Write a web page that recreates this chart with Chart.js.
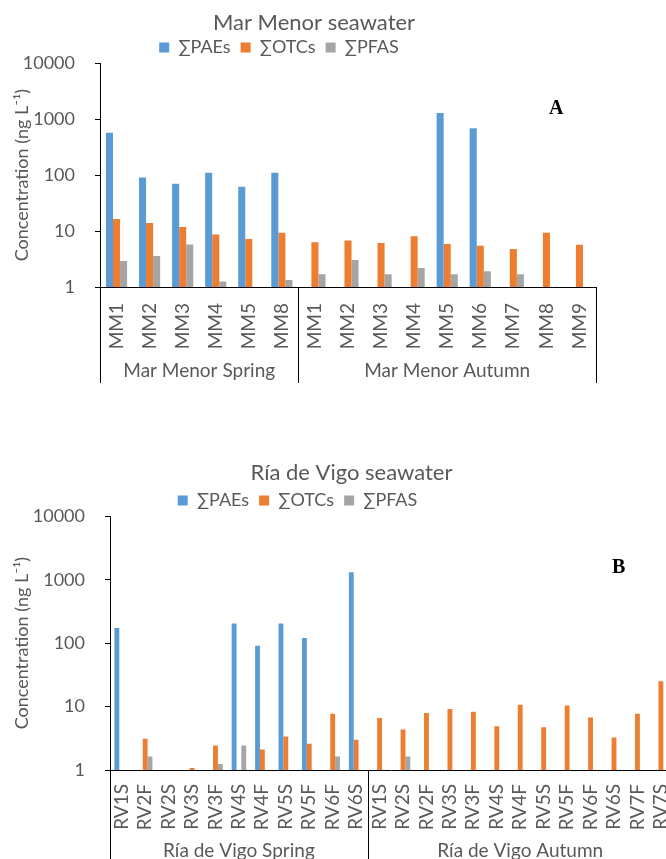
<!DOCTYPE html>
<html>
<head>
<meta charset="utf-8">
<script src="https://cdn.jsdelivr.net/npm/chart.js@4.4.1/dist/chart.umd.min.js"></script>
<style>
  body { margin: 0; width: 666px; height: 859px; overflow: hidden; background: #fff; position: relative; }
  canvas { position: absolute; left: 0; }
  #chartA { top: 0; }
  #chartB { top: 450px; }
  .tag { position: absolute; font-family: "Liberation Serif", serif; font-weight: bold; font-size: 20px; color: #000; line-height: 20px; }
</style>
</head>
<body>
<canvas id="chartA" width="620" height="387"></canvas>
<canvas id="chartB" width="690" height="420"></canvas>
<div class="tag" style="left:549px; top:97px">A</div>
<div class="tag" style="left:612px; top:556px">B</div>
<script>
const seriesNames = ["∑PAEs", "∑OTCs", "∑PFAS"];
const seriesColors = ["#5B9BD5", "#ED7D31", "#A5A5A5"];
const yTicks = [1, 10, 100, 1000, 10000];

// Mar Menor
const mmSites = ["MM1", "MM2", "MM3", "MM4", "MM5", "MM8",
  "MM1", "MM2", "MM3", "MM4", "MM5", "MM6", "MM7", "MM8", "MM9"];
const mmGroups = ["Mar Menor Spring", "Mar Menor Autumn"];
const mmGroupSizes = [6, 9];
const mmPAEs = [575, 91, 70, 111, 62, 111, null, null, null, null, 1290, 695, null, null, null];
const mmOTCs = [16.4, 13.9, 11.8, 8.7, 7.2, 9.3, 6.3, 6.8, 6.1, 8.1, 5.85, 5.45, 4.8, 9.3, 5.7];
const mmPFAS = [2.93, 3.6, 5.75, 1.26, null, 1.34, 1.69, 3.05, 1.69, 2.19, 1.69, 1.91, 1.69, null, null];

// Ria de Vigo
const rvSites = ["RV1S", "RV2F", "RV2S", "RV3S", "RV3F", "RV4S", "RV4F", "RV5S", "RV5F", "RV6F", "RV6S",
  "RV1S", "RV2S", "RV2F", "RV3S", "RV3F", "RV4S", "RV4F", "RV5S", "RV5F", "RV6F", "RV6S", "RV7F", "RV7S"];
const rvGroups = ["Ría de Vigo Spring", "Ría de Vigo Autumn"];
const rvGroupSizes = [11, 13];
const rvPAEs = [173, null, null, null, null, 205, 91, 205, 121, null, 1320,
  null, null, null, null, null, null, null, null, null, null, null, null, null];
const rvOTCs = [null, 3.1, null, 1.08, 2.43, null, 2.1, 3.38, 2.59, 7.74, 2.99,
  6.6, 4.36, 7.9, 9.2, 8.3, 4.9, 10.7, 4.74, 10.4, 6.76, 3.26, 7.74, 25];
const rvPFAS = [null, 1.63, null, null, 1.24, 2.43, null, null, null, 1.64, null,
  null, 1.64, null, null, null, null, null, null, null, null, null, null, null];

const textColor = "#595959";
const fontName = "Lato";

// group labels + separators under the category axis
const groupPlugin = {
  id: "groups",
  afterDraw(chart, args, opts) {
    const x = chart.scales.x;
    const ctx = chart.ctx;
    const step = x.width / x.ticks.length;
    ctx.save();
    ctx.strokeStyle = "#000";
    ctx.lineWidth = 1;
    ctx.fillStyle = textColor;
    ctx.font = opts.fontSize + "px " + fontName;
    ctx.textAlign = "center";
    ctx.textBaseline = "middle";
    let idx = 0;
    const edges = [x.left];
    opts.sizes.forEach((n, i) => {
      const a = x.left + idx * step;
      idx += n;
      const b = x.left + idx * step;
      edges.push(b);
      ctx.fillText(opts.names[i], (a + b) / 2, x.top + opts.labelY);
    });
    edges.forEach(e => {
      const px = Math.round(e) + 0.5;
      ctx.beginPath();
      ctx.moveTo(px, x.top);
      ctx.lineTo(px, x.top + opts.depth);
      ctx.stroke();
    });
    ctx.restore();
  }
};

// nudge title / legend like the original layout
const shiftPlugin = {
  id: "shift",
  afterLayout(chart, args, opts) {
    chart.titleBlock.left += opts.title;
    chart.titleBlock.right += opts.title;
    chart.legend.left += opts.legend;
    chart.legend.right += opts.legend;
    chart.legend.top += opts.legendY;
    chart.legend.bottom += opts.legendY;
  }
};

function makeChart(id, title, sites, pae, otc, pfas, groups, sizes, cfg) {
  const values = [pae, otc, pfas];
  return new Chart(document.getElementById(id), {
    type: "bar",
    data: {
      labels: sites,
      datasets: seriesNames.map((name, i) => ({
        label: name,
        data: values[i],
        backgroundColor: seriesColors[i],
        borderWidth: 0,
        categoryPercentage: cfg.catPct,
        barPercentage: 1
      }))
    },
    plugins: [groupPlugin, shiftPlugin],
    options: {
      responsive: false,
      animation: false,
      devicePixelRatio: 1,
      layout: { padding: { top: 0, right: cfg.padRight, bottom: 0, left: 0 } },
      plugins: {
        title: {
          display: true,
          text: title,
          color: textColor,
          font: { family: fontName, size: 22, weight: "normal" },
          padding: { top: 10, bottom: cfg.titleBottom }
        },
        legend: {
          display: true,
          labels: {
            color: textColor,
            font: { family: fontName, size: 18 },
            boxWidth: 10,
            boxHeight: 10,
            padding: 10
          }
        },
        tooltip: { enabled: false },
        groups: { names: groups, sizes: sizes, depth: cfg.depth, labelY: cfg.labelY, fontSize: 19 },
        shift: { title: cfg.titleShift, legend: cfg.legendShift, legendY: cfg.legendY }
      },
      scales: {
        x: {
          grid: { display: false },
          border: { display: true, color: "#000", width: 1 },
          ticks: {
            color: textColor,
            font: { family: fontName, size: 19 },
            minRotation: 90,
            maxRotation: 90,
            autoSkip: false,
            padding: cfg.xPad
          },
          afterFit: s => { s.height = cfg.xHeight; }
        },
        y: {
          type: "logarithmic",
          min: 1,
          max: 10000,
          afterBuildTicks: s => { s.ticks = yTicks.map(v => ({ value: v })); },
          ticks: {
            color: textColor,
            font: { family: fontName, size: 18 },
            padding: 20,
            callback: v => String(v)
          },
          grid: { display: true, drawOnChartArea: false, drawTicks: true, tickLength: 5, color: "#000" },
          border: { display: true, color: "#000", width: 1 },
          title: {
            display: true,
            text: "Concentration (ng L⁻¹)",
            color: textColor,
            font: { family: fontName, size: 18 },
            padding: { top: cfg.yTitlePad, bottom: 0 }
          },
          afterFit: s => { s.width = cfg.yWidth; }
        }
      }
    }
  });
}

makeChart("chartA", "Mar Menor seawater", mmSites, mmPAEs, mmOTCs, mmPFAS, mmGroups, mmGroupSizes, {
  catPct: 0.64, padRight: 24, titleBottom: -11, depth: 96, labelY: 84, xHeight: 100, xPad: 8,
  yWidth: 100, yTitlePad: 11, titleShift: 16, legendShift: -19, legendY: 3
});

makeChart("chartB", "Ría de Vigo seawater", rvSites, rvPAEs, rvOTCs, rvPFAS, rvGroups, rvGroupSizes, {
  catPct: 0.62, padRight: 15, titleBottom: -8, depth: 120, labelY: 81, xHeight: 100, xPad: 6,
  yWidth: 110, yTitlePad: 11, titleShift: 14, legendShift: -40, legendY: 3
});
</script>
</body>
</html>
